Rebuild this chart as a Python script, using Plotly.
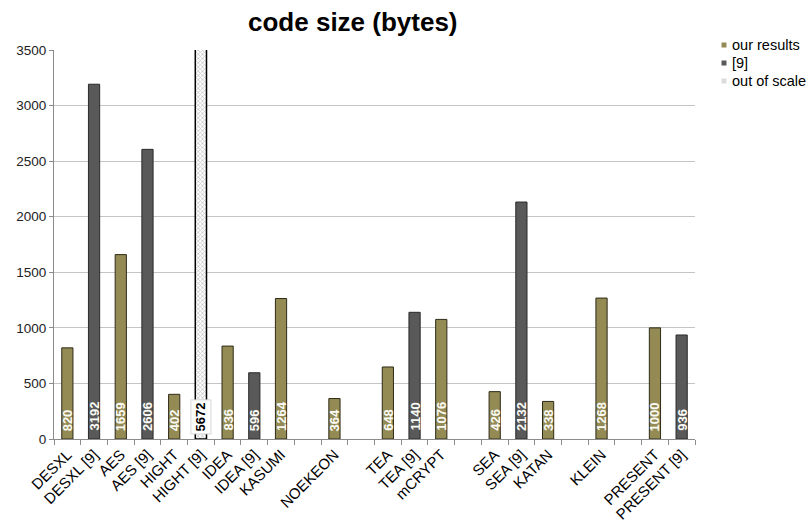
import plotly.graph_objects as go

# Slot order on the category axis (blank slots keep the gaps between groups)
categories = ["DESXL", "DESXL [9]", "AES", "AES [9]", "HIGHT", "HIGHT [9]",
              "IDEA", "IDEA [9]", "KASUMI", " ", "NOEKEON", "  ",
              "TEA", "TEA [9]", "mCRYPT", "   ", "SEA", "SEA [9]", "KATAN",
              "    ", "KLEIN", "     ", "PRESENT", "PRESENT [9]"]

ours_names = ["DESXL", "AES", "HIGHT", "IDEA", "KASUMI", "NOEKEON", "TEA",
              "mCRYPT", "SEA", "KATAN", "KLEIN", "PRESENT"]
ours_values = [820, 1659, 402, 836, 1264, 364, 648, 1076, 426, 338, 1268, 1000]

ref_names = ["DESXL [9]", "AES [9]", "IDEA [9]", "TEA [9]", "SEA [9]", "PRESENT [9]"]
ref_values = [3192, 2606, 596, 1140, 2132, 936]

oos_names = ["HIGHT [9]"]
oos_values = [5672]

y_max = 3500
y_ticks = [0, 500, 1000, 1500, 2000, 2500, 3000, 3500]

legend_names = ["our results", "[9]", "out of scale"]

OLIVE = "#948A54"
GRAY = "#595959"
BAR_W = 0.42
FONT = "Liberation Sans, Arial"

fig = go.Figure()

fig.add_trace(go.Bar(
    x=ours_names, y=ours_values, width=BAR_W, name=legend_names[0],
    marker=dict(color=OLIVE, line=dict(color="#2e2a18", width=1)),
    showlegend=False, hoverinfo="x+y",
))
fig.add_trace(go.Bar(
    x=ref_names, y=ref_values, width=BAR_W, name=legend_names[1],
    marker=dict(color=GRAY, line=dict(color="#2a2a2a", width=1)),
    showlegend=False, hoverinfo="x+y",
))
fig.add_trace(go.Bar(
    x=oos_names, y=oos_values, width=BAR_W, name=legend_names[2],
    marker=dict(color="white", line=dict(color="black", width=1.5),
                pattern=dict(shape="x", size=3, solidity=0.45,
                             fgcolor="#8a8a8a", bgcolor="white")),
    showlegend=False, hoverinfo="x+y",
))

# Rotated value labels sitting just above each bar's base
for names, vals in [(ours_names, ours_values), (ref_names, ref_values)]:
    for name, val in zip(names, vals):
        fig.add_annotation(
            x=name, y=0, yanchor="bottom", yshift=6, text=f"<b>{val}</b>",
            textangle=-90, showarrow=False,
            font=dict(family=FONT, size=13, color="#fbfbf5"),
        )

# Bars that run past the axis top get a boxed label
for name, val in zip(oos_names, oos_values):
    fig.add_annotation(
        x=name, y=0, yanchor="bottom", yshift=5, text=f"<b>{val}</b>",
        textangle=-90, showarrow=False, bgcolor="white",
        bordercolor="#d8d8d8", borderwidth=1, borderpad=2,
        font=dict(family=FONT, size=13, color="black"),
    )

# Legend: small square swatch + label per series
legend_colors = [OLIVE, GRAY, "#dcdcdc"]
leg_x0, leg_y0, leg_dy = 724, 45, 18
for i, (nm, col) in enumerate(zip(legend_names, legend_colors)):
    cy = leg_y0 + i * leg_dy
    fig.add_shape(type="rect", xref="paper", yref="paper",
                  x0=(leg_x0 - 2.5 - 54) / 641, x1=(leg_x0 + 2.5 - 54) / 641,
                  y0=(439 - cy - 2.5) / 389, y1=(439 - cy + 2.5) / 389,
                  fillcolor=col, line=dict(width=0))
    fig.add_annotation(xref="paper", yref="paper",
                       x=(leg_x0 + 6 - 54) / 641, y=(439 - cy) / 389,
                       xanchor="left", yanchor="middle", showarrow=False,
                       text=nm, font=dict(family=FONT, size=14.5, color="black"))

fig.update_layout(
    width=811, height=523,
    margin=dict(l=54, r=116, t=50, b=84, autoexpand=False),
    paper_bgcolor="white", plot_bgcolor="white",
    barmode="overlay", showlegend=False,
    title=dict(text="<b>code size (bytes)</b>", x=0.435, xanchor="center",
               y=0.975, yanchor="top",
               font=dict(family=FONT, size=26, color="black")),
    font=dict(family=FONT, color="black"),
)

fig.update_xaxes(
    type="category", categoryorder="array", categoryarray=categories,
    tickmode="array", tickvals=categories, ticktext=categories,
    tickson="boundaries", ticks="outside", ticklen=5, tickcolor="#8c8c8c",
    showline=True, linecolor="#8c8c8c", linewidth=1, showgrid=False,
    tickangle=-45, tickfont=dict(family=FONT, size=15, color="black"),
    range=[-0.5, len(categories) - 0.5], fixedrange=True, automargin=False,
)
fig.update_yaxes(
    range=[0, y_max], tickvals=y_ticks, ticks="outside", ticklen=4,
    tickcolor="#8c8c8c", showline=True, linecolor="#8c8c8c", linewidth=1,
    showgrid=True, gridcolor="#c4c4c4", gridwidth=1, zeroline=False,
    tickfont=dict(family=FONT, size=13.5, color="#222"),
    fixedrange=True, automargin=False,
)

fig.write_html("out.html")
